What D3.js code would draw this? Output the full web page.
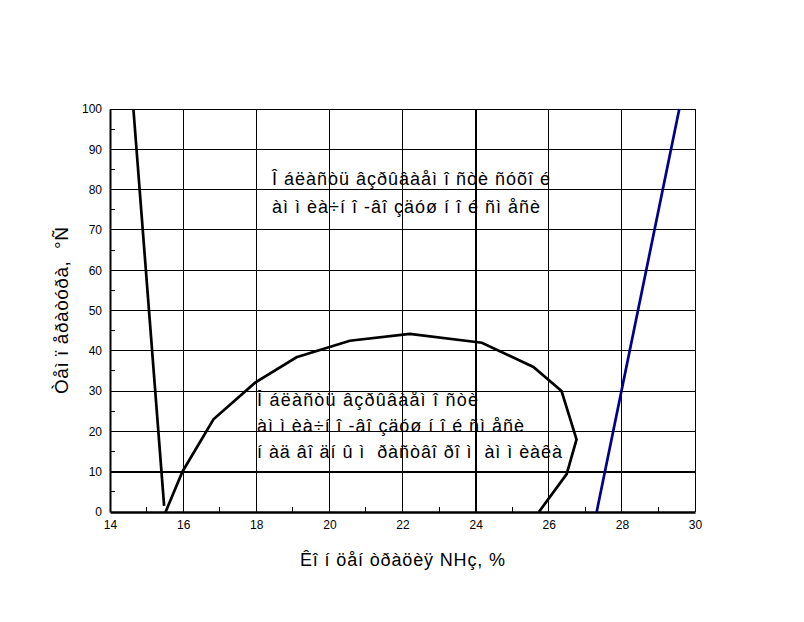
<!DOCTYPE html>
<html><head><meta charset="utf-8">
<script src="https://cdn.jsdelivr.net/npm/d3@7"></script>
<style>body{margin:0;background:#fff;} svg{display:block;font-family:Arial,"Liberation Sans",sans-serif;}</style>
</head><body>
<script>
// Data
const xTicks = [14,16,18,20,22,24,26,28,30];
const yTicks = [0,10,20,30,40,50,60,70,80,90,100];
const xMinor = [15,17,19,21,23,25,27,29];
const yMinor = [5,15,25,35,45,55,65,75,85,95];
const lowerLimitLine = [[14.64,100],[15.48,1.5]];
const dryMixtureCurve = [[15.52,0],[15.98,10],[16.83,23],[17.97,32.1],[19.1,38.4],[20.56,42.5],[22.2,44.2],[24.17,42],[25.58,36],[26.35,30],[26.76,18],[26.49,9.4],[25.73,0]];
const upperLimitLine = [[27.31,0],[29.57,100]];
const topText = ["Î áëàñòü âçðûâàåì î ñòè ñóõî é","àì ì èà÷í î -âî çäóø í î é ñì åñè"];
const lowerText = ["Î áëàñòü âçðûâàåì î ñòè","àì ì èà÷í î -âî çäóø í î é ñì åñè","í àä âî äí û ì  ðàñòâî ðî ì  àì ì èàêà"];
const xLabel = "Êî í öåí òðàöèÿ NHç, %";
const yLabel = "Òåì ï åðàòóðà,  °Ñ";

const W=804,H=622;
const svg=d3.select("body").append("svg").attr("width",W).attr("height",H);
const x=d3.scaleLinear().domain([14,30]).range([110,695]);
const y=d3.scaleLinear().domain([0,100]).range([512,109]);

// grid
svg.append("g").selectAll("line").data(xTicks.slice(1,-1)).join("line")
  .attr("x1",d=>x(d)).attr("x2",d=>x(d)).attr("y1",y(0)).attr("y2",y(100))
  .attr("stroke","#000").attr("stroke-width",d=>d===24?2:1).attr("shape-rendering","crispEdges");
svg.append("g").selectAll("line").data(yTicks.slice(1,-1)).join("line")
  .attr("y1",d=>y(d)).attr("y2",d=>y(d)).attr("x1",x(14)).attr("x2",x(30))
  .attr("stroke","#000").attr("stroke-width",d=>d===10?2:1).attr("shape-rendering","crispEdges");

// frame
svg.append("line").attr("x1",x(14)).attr("x2",x(30)).attr("y1",y(100)).attr("y2",y(100)).attr("stroke","#000").attr("shape-rendering","crispEdges");
svg.append("line").attr("x1",x(30)).attr("x2",x(30)).attr("y1",y(0)).attr("y2",y(100)).attr("stroke","#000").attr("shape-rendering","crispEdges");

// axes
const xAxis=d3.axisBottom(x).tickValues(xTicks).tickSize(0).tickPadding(8).tickFormat(d3.format("d"));
const gx=svg.append("g").attr("transform",`translate(0,${y(0)})`).call(xAxis);
gx.select(".domain").attr("stroke-width",2.5);
gx.selectAll("text").attr("font-size",12).attr("font-family","Arial,'Liberation Sans',sans-serif");
const yAxis=d3.axisLeft(y).tickValues(yTicks).tickSize(0).tickPadding(8).tickFormat(d3.format("d"));
const gy=svg.append("g").attr("transform",`translate(${x(14)},0)`).call(yAxis);
gy.select(".domain").attr("stroke-width",2);
gy.selectAll("text").attr("font-size",12).attr("font-family","Arial,'Liberation Sans',sans-serif");

// minor ticks inside
svg.append("g").selectAll("line").data(xMinor).join("line")
  .attr("x1",d=>x(d)).attr("x2",d=>x(d)).attr("y1",y(0)).attr("y2",y(0)-5).attr("stroke","#000").attr("shape-rendering","crispEdges");
svg.append("g").selectAll("line").data(yMinor).join("line")
  .attr("y1",d=>y(d)).attr("y2",d=>y(d)).attr("x1",x(14)).attr("x2",x(14)+5).attr("stroke","#000").attr("shape-rendering","crispEdges");

// curves
const line=d3.line().x(d=>x(d[0])).y(d=>y(d[1]));
svg.append("path").datum(lowerLimitLine).attr("d",line).attr("fill","none").attr("stroke","#000").attr("stroke-width",2.7);
svg.append("path").datum(dryMixtureCurve).attr("d",line).attr("fill","none").attr("stroke","#000").attr("stroke-width",2.7).attr("stroke-linejoin","miter");
svg.append("path").datum(upperLimitLine).attr("d",line).attr("fill","none").attr("stroke","#00008B").attr("stroke-width",2.7);

// annotations
const topLens=[278,268];
const lowLens=[221,267,305];
svg.append("g").selectAll("text").data(topText).join("text")
  .attr("x",272).attr("y",(d,i)=>185+i*28).attr("font-size",18)
  .attr("textLength",(d,i)=>topLens[i]).attr("lengthAdjust","spacing")
  .style("white-space","pre").text(d=>d);
svg.append("g").selectAll("text").data(lowerText).join("text")
  .attr("x",257).attr("y",(d,i)=>406+i*26).attr("font-size",18)
  .attr("textLength",(d,i)=>lowLens[i]).attr("lengthAdjust","spacing")
  .style("white-space","pre").text(d=>d);

// axis titles
svg.append("text").attr("x",(x(14)+x(30))/2).attr("y",566).attr("text-anchor","middle").attr("font-size",18)
  .attr("textLength",205).attr("lengthAdjust","spacing").style("white-space","pre").text(xLabel);
svg.append("text").attr("transform",`translate(68,${(y(0)+y(100))/2}) rotate(-90)`).attr("text-anchor","middle").attr("font-size",19)
  .attr("textLength",167).attr("lengthAdjust","spacing").style("white-space","pre").text(yLabel);
</script>
</body></html>
